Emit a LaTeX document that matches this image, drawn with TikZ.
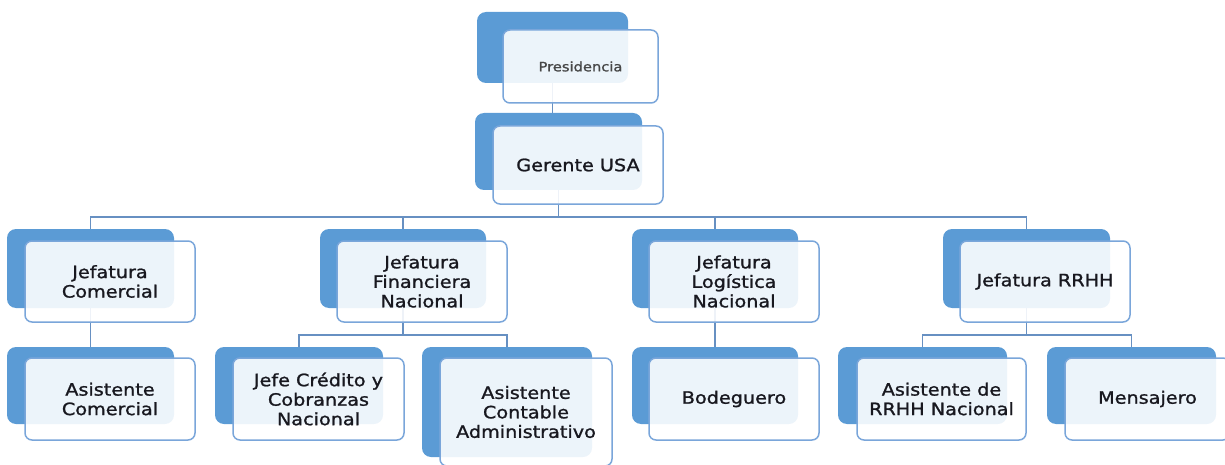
\documentclass[tikz,border=0pt]{standalone}
\usepackage{fontspec}
\setmainfont[FakeStretch=1.13,FakeBold=1.2]{DejaVu Sans}
\pgfdeclarelayer{bg}
\pgfsetlayers{bg,main}
\definecolor{backblue}{HTML}{5B9BD5}
\definecolor{frontline}{HTML}{7AA6DA}
\definecolor{conn}{HTML}{6790C2}
\definecolor{txt}{HTML}{18181F}
\tikzset{
  backbox/.style={fill=backblue, draw=none, rounded corners=9pt, inner sep=0pt, outer sep=0pt},
  frontbox/.style={fill=white, fill opacity=0.89, text opacity=1, draw=frontline, line width=1.5pt,
     rounded corners=7pt, inner sep=0pt, outer sep=0pt, align=center, text=txt,
     font=\fontsize{17}{19.5}\selectfont},
  smalltext/.style={font=\fontsize{13}{15}\selectfont, text=black!72},
  connector/.style={draw=conn, line width=1.5pt}
}
\begin{document}
\begin{tikzpicture}[x=1pt,y=-1pt]
\useasboundingbox (0,0) rectangle (1225,465);
\clip (0,0) rectangle (1225,465);
% back boxes
\node[backbox, minimum width=151, minimum height=71] (presb) at (552.5,47.5) {};
\node[backbox, minimum width=167, minimum height=77] (gerb) at (558.5,151.5) {};
\node[backbox, minimum width=167, minimum height=79] (comb) at (90.5,268.5) {};
\node[backbox, minimum width=166, minimum height=79] (finb) at (403,268.5) {};
\node[backbox, minimum width=166, minimum height=79] (logb) at (715,268.5) {};
\node[backbox, minimum width=167, minimum height=79] (rrhhb) at (1026.5,268.5) {};
\node[backbox, minimum width=167, minimum height=77] (acomb) at (90.5,385.5) {};
\node[backbox, minimum width=168, minimum height=77] (jcb) at (299,385.5) {};
\node[backbox, minimum width=170, minimum height=110] (acontb) at (507,402) {};
\node[backbox, minimum width=166, minimum height=77] (bodb) at (715,385.5) {};
\node[backbox, minimum width=169, minimum height=77] (arrhhb) at (922.5,385.5) {};
\node[backbox, minimum width=169, minimum height=77] (mensb) at (1131.5,385.5) {};
% front boxes
\node[frontbox, smalltext, minimum width=155, minimum height=73] (pres) at (580.5,66.5) {Presidencia};
\node[frontbox, minimum width=170, minimum height=78] (ger) at (578,165) {Gerente USA};
\node[frontbox, minimum width=170, minimum height=81] (com) at (110,281.5) {Jefatura\\Comercial};
\node[frontbox, minimum width=170, minimum height=81] (fin) at (422,281.5) {Jefatura\\Financiera\\Nacional};
\node[frontbox, minimum width=170, minimum height=81] (log) at (734,281.5) {Jefatura\\Logística\\Nacional};
\node[frontbox, minimum width=170, minimum height=81] (rrhh) at (1045,281.5) {Jefatura RRHH};
\node[frontbox, minimum width=170, minimum height=82] (acom) at (110,399) {Asistente\\Comercial};
\node[frontbox, minimum width=171, minimum height=82] (jc) at (318.5,399) {Jefe Crédito y\\Cobranzas\\Nacional};
\node[frontbox, minimum width=172, minimum height=108] (acont) at (526,412) {Asistente\\Contable\\Administrativo};
\node[frontbox, minimum width=170, minimum height=82] (bod) at (734,399) {Bodeguero};
\node[frontbox, minimum width=169, minimum height=82] (arrhh) at (941.5,399) {Asistente de\\RRHH Nacional};
\node[frontbox, minimum width=165, minimum height=82] (mens) at (1147.5,399) {Mensajero};
% bus levels
\coordinate (bus1) at (0,217);
\coordinate (bus2) at (0,335);
% connectors
\begin{pgfonlayer}{bg}
\draw[connector] (presb.south) -- (presb.south |- gerb.north);
\draw[connector] (gerb.south) -- (gerb.south |- bus1) -| (comb.north);
\draw[connector] (gerb.south |- bus1) -| (finb.north);
\draw[connector] (gerb.south |- bus1) -| (logb.north);
\draw[connector] (gerb.south |- bus1) -| (rrhhb.north);
\draw[connector] (comb.south) -- (acomb.north);
\draw[connector] (finb.south) -- (finb.south |- bus2) -| (jcb.north);
\draw[connector] (finb.south |- bus2) -| (acontb.north);
\draw[connector] (logb.south) -- (bodb.north);
\draw[connector] (rrhhb.south) -- (rrhhb.south |- bus2) -| (arrhhb.north);
\draw[connector] (rrhhb.south |- bus2) -| (mensb.north);
\end{pgfonlayer}
\end{tikzpicture}
\end{document}
